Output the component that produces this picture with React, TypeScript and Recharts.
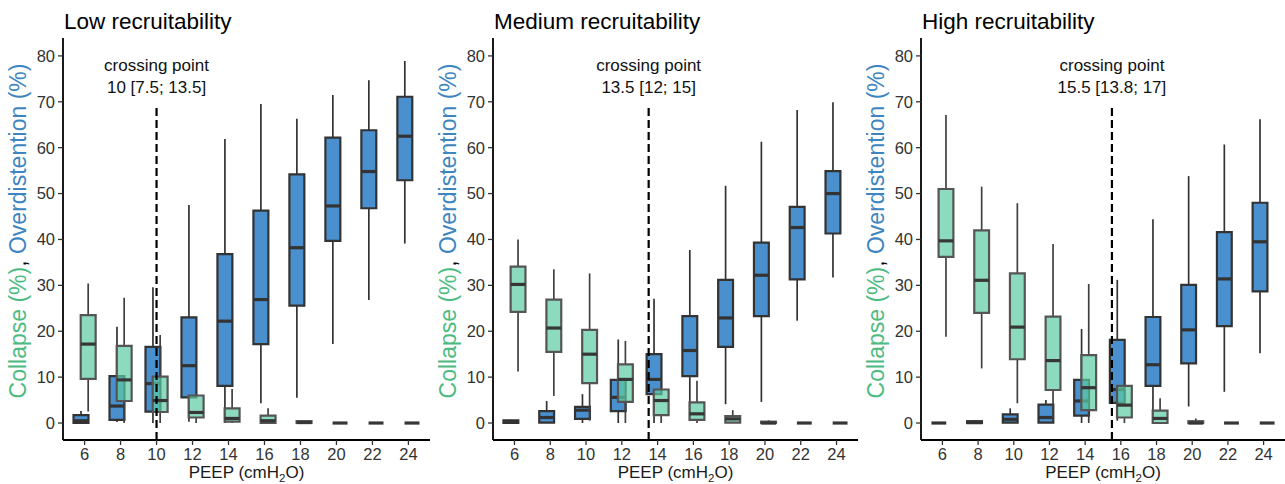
import React from "react";
import { ComposedChart, XAxis, YAxis, ReferenceArea, ReferenceLine } from "recharts";

const FONT = "'Liberation Sans', Arial, Helvetica, sans-serif";

const PEEP = [6, 8, 10, 12, 14, 16, 18, 20, 22, 24];
const Y_TICKS = [0, 10, 20, 30, 40, 50, 60, 70, 80];

// each entry: [min, q1, median, q3, max]
const LOW_OVERDISTENTION = [
  [0, 0, 0.5, 1.7, 2.6],
  [0.2, 0.7, 3.7, 10.2, 21],
  [0, 2.5, 8.6, 16.6, 29.6],
  [0.3, 5.6, 12.5, 23, 47.5],
  [0, 8.1, 22.2, 36.8, 61.9],
  [4.3, 17.2, 26.9, 46.3, 69.5],
  [5.5, 25.6, 38.2, 54.2, 66.3],
  [17.2, 39.7, 47.3, 62.2, 71.5],
  [26.8, 46.8, 54.8, 63.8, 74.7],
  [39.1, 52.9, 62.5, 71.1, 78.9],
];
const LOW_COLLAPSE = [
  [2.5, 9.6, 17.2, 23.5, 30.4],
  [0, 4.8, 9.4, 16.8, 27.3],
  [0, 2.4, 4.9, 10.1, 19.2],
  [0, 1.2, 2.3, 6.0, 6.0],
  [0, 0.3, 1.0, 3.2, 7.4],
  [0, 0, 0.5, 1.6, 3.2],
  [0, 0, 0.1, 0.4, 0.6],
  [0, 0, 0, 0, 0],
  [0, 0, 0, 0, 0],
  [0, 0, 0, 0, 0],
];
const MED_OVERDISTENTION = [
  [0, 0, 0.3, 0.6, 0.7],
  [0, 0.1, 1.2, 2.6, 4.8],
  [0, 0.9, 2.8, 3.5, 6.3],
  [0, 2.6, 5.6, 9.4, 18.2],
  [0, 6.3, 9.5, 15.0, 27.1],
  [0.5, 10.2, 15.8, 23.3, 37.7],
  [4.1, 16.6, 22.9, 31.2, 51.7],
  [4.6, 23.3, 32.2, 39.3, 61.3],
  [22.3, 31.3, 42.6, 47.1, 68.2],
  [31.7, 41.3, 50.0, 54.9, 69.9],
];
const MED_COLLAPSE = [
  [11.2, 24.2, 30.2, 34.1, 40],
  [5.9, 15.5, 20.7, 26.9, 33.5],
  [0.5, 8.7, 15.0, 20.3, 32.6],
  [0, 4.6, 9.5, 12.8, 17.9],
  [0, 1.7, 4.9, 7.3, 7.8],
  [0, 0.7, 2.0, 4.5, 9.2],
  [0, 0.1, 0.9, 1.5, 2.8],
  [0, 0, 0, 0.3, 0.6],
  [0, 0, 0, 0, 0],
  [0, 0, 0, 0, 0],
];
const HIGH_OVERDISTENTION = [
  [0, 0, 0, 0, 0],
  [0, 0, 0.1, 0.4, 0.6],
  [0, 0.1, 0.8, 1.9, 3.2],
  [0, 0.1, 1.2, 4.0, 5.0],
  [0, 1.6, 4.8, 9.4, 20.5],
  [0.5, 4.4, 7.3, 18.1, 31.2],
  [0.5, 8.1, 12.7, 23.1, 44.4],
  [3.6, 13.0, 20.3, 30.1, 53.8],
  [6.8, 21.1, 31.4, 41.6, 60.7],
  [15.2, 28.7, 39.5, 48.0, 66.2],
];
const HIGH_COLLAPSE = [
  [18.8, 36.2, 39.7, 51.0, 67.1],
  [11.9, 24.0, 31.1, 42.0, 51.5],
  [4.3, 13.9, 20.9, 32.6, 47.9],
  [0.5, 7.2, 13.6, 23.2, 39.0],
  [0, 2.8, 7.7, 14.8, 30.3],
  [0, 1.2, 3.9, 8.1, 8.5],
  [0, 0, 1.0, 2.7, 5.4],
  [0, 0, 0, 0.4, 1.0],
  [0, 0, 0, 0, 0],
  [0, 0, 0, 0, 0],
];

const TITLES = ["Low recruitability", "Medium recruitability", "High recruitability"];
const CROSSING = [10, 13.5, 15.5];
const CROSSING_LABELS = ["10 [7.5; 13.5]", "13.5 [12; 15]", "15.5 [13.8; 17]"];
const CROSSING_TOP = 69.5;

const BLUE = "#4a90cf";
const GREEN = "#5ccca3";
const DODGE = 0.2;
const HALF = 0.415;
const X_DOMAIN: [number, number] = [4.8, 25.2];
const Y_DOMAIN: [number, number] = [-3.7, 83.9];

type Style = { fill: string; fillOpacity: number; stroke: string; whisker: string; median: string; z: number };

const BLUE_STYLE: Style = { fill: BLUE, fillOpacity: 1, stroke: "#333333", whisker: "#333333", median: "#333333", z: 100 };
const GREEN_STYLE: Style = { fill: GREEN, fillOpacity: 0.7, stroke: "#555555", whisker: "#404040", median: "#363636", z: 200 };

function boxes(stats: number[][], offset: number, st: Style, key: string) {
  const els: any[] = [];
  stats.forEach((s, i) => {
    const p = PEEP[i] + offset;
    const [mn, q1, md, q3, mx] = s;
    if (q1 > mn)
      els.push(
        <ReferenceLine key={`${key}wl${i}`} segment={[{ x: p, y: mn }, { x: p, y: q1 }]} stroke={st.whisker} strokeWidth={1.7} ifOverflow="visible" zIndex={st.z} />
      );
    if (mx > q3)
      els.push(
        <ReferenceLine key={`${key}wh${i}`} segment={[{ x: p, y: q3 }, { x: p, y: mx }]} stroke={st.whisker} strokeWidth={1.7} ifOverflow="visible" zIndex={st.z} />
      );
    if (q3 > q1)
      els.push(
        <ReferenceArea key={`${key}b${i}`} x1={p - HALF} x2={p + HALF} y1={q1} y2={q3} fill={st.fill} fillOpacity={st.fillOpacity} stroke={st.stroke} strokeWidth={2.2} strokeOpacity={1} ifOverflow="visible" zIndex={st.z + 10} />
      );
    els.push(
      <ReferenceLine key={`${key}m${i}`} segment={[{ x: p - HALF, y: md }, { x: p + HALF, y: md }]} stroke={st.median} strokeWidth={3.2} ifOverflow="visible" zIndex={st.z + 20} />
    );
  });
  return els;
}

const renderXLabel = (props: any) => {
  const vb = props.viewBox || { x: 63, y: 440, width: 367, height: 44 };
  return (
    <text x={vb.x + vb.width / 2} y={478} textAnchor="middle" fontSize={17} fontFamily={FONT} fill="#1a1a1a">
      <tspan>PEEP (cmH</tspan>
      <tspan dy={3.5} fontSize={11.5}>2</tspan>
      <tspan dy={-3.5}>O)</tspan>
    </text>
  );
};

const renderYLabel = (props: any) => {
  const vb = props.viewBox || { x: 0, y: 38, width: 63, height: 402 };
  const x = vb.x + 26;
  const y = vb.y + vb.height / 2 - 8;
  return (
    <text x={x} y={y} transform={`rotate(-90, ${x}, ${y})`} textAnchor="middle" fontSize={23} fontFamily={FONT}>
      <tspan fill="#4dbb7f">Collapse (%)</tspan>
      <tspan fill="#000000">, </tspan>
      <tspan fill="#3d85c0">Overdistention (%)</tspan>
    </text>
  );
};

const crossLabel = (text: string) => (props: any) => {
  const vb = props.viewBox || {};
  const x = vb.x ?? vb.x1 ?? 0;
  const y = vb.y ?? Math.min(vb.y1 ?? 0, vb.y2 ?? 0);
  return (
    <text x={x} y={y} textAnchor="middle" fontSize={17} fontFamily={FONT} fill="#111">
      <tspan x={x} dy={-33}>crossing point</tspan>
      <tspan x={x} dy={22}>{text}</tspan>
    </text>
  );
};

function Panel({ left, width, idx, over, coll }: { left: number; width: number; idx: number; over: number[][]; coll: number[][] }) {
  const rows = PEEP.map((p) => ({ x: p }));
  return (
    <div style={{ position: "absolute", left, top: 0 }}>
      <ComposedChart width={width} height={484} data={rows} margin={{ top: 38, right: 0, bottom: 0, left: 0 }}>
        <XAxis
          type="number"
          dataKey="x"
          domain={X_DOMAIN}
          allowDataOverflow
          ticks={PEEP}
          interval={0}
          height={44}
          tickSize={5}
          tickMargin={3}
          axisLine={{ stroke: "#000", strokeWidth: 1.8 }}
          tickLine={{ stroke: "#333", strokeWidth: 1.3 }}
          tick={{ fill: "#333", fontSize: 16.5, fontFamily: FONT }}
          label={renderXLabel}
        />
        <YAxis
          type="number"
          domain={Y_DOMAIN}
          allowDataOverflow
          ticks={Y_TICKS}
          interval={0}
          width={63}
          tickSize={5}
          tickMargin={3}
          axisLine={{ stroke: "#000", strokeWidth: 1.8 }}
          tickLine={{ stroke: "#333", strokeWidth: 1.3 }}
          tick={{ fill: "#333", fontSize: 16.5, fontFamily: FONT }}
          label={renderYLabel}
        />
        {boxes(over, -DODGE, BLUE_STYLE, "o")}
        {boxes(coll, DODGE, GREEN_STYLE, "c")}
        <ReferenceLine
          segment={[{ x: CROSSING[idx], y: Y_DOMAIN[0] }, { x: CROSSING[idx], y: CROSSING_TOP }]}
          stroke="#000"
          strokeWidth={2.2}
          strokeDasharray="8 4"
          ifOverflow="visible"
          zIndex={400}
          label={crossLabel(CROSSING_LABELS[idx])}
        />
        <text x={64} y={29} fontSize={22.5} fontFamily={FONT} fill="#000">
          {TITLES[idx]}
        </text>
      </ComposedChart>
    </div>
  );
}

export default function App() {
  return (
    <div style={{ position: "absolute", left: 0, top: 0, width: 1285, height: 484, overflow: "hidden", background: "#fff" }}>
      <Panel left={0} width={430} idx={0} over={LOW_OVERDISTENTION} coll={LOW_COLLAPSE} />
      <Panel left={430} width={428} idx={1} over={MED_OVERDISTENTION} coll={MED_COLLAPSE} />
      <Panel left={858} width={427} idx={2} over={HIGH_OVERDISTENTION} coll={HIGH_COLLAPSE} />
    </div>
  );
}
